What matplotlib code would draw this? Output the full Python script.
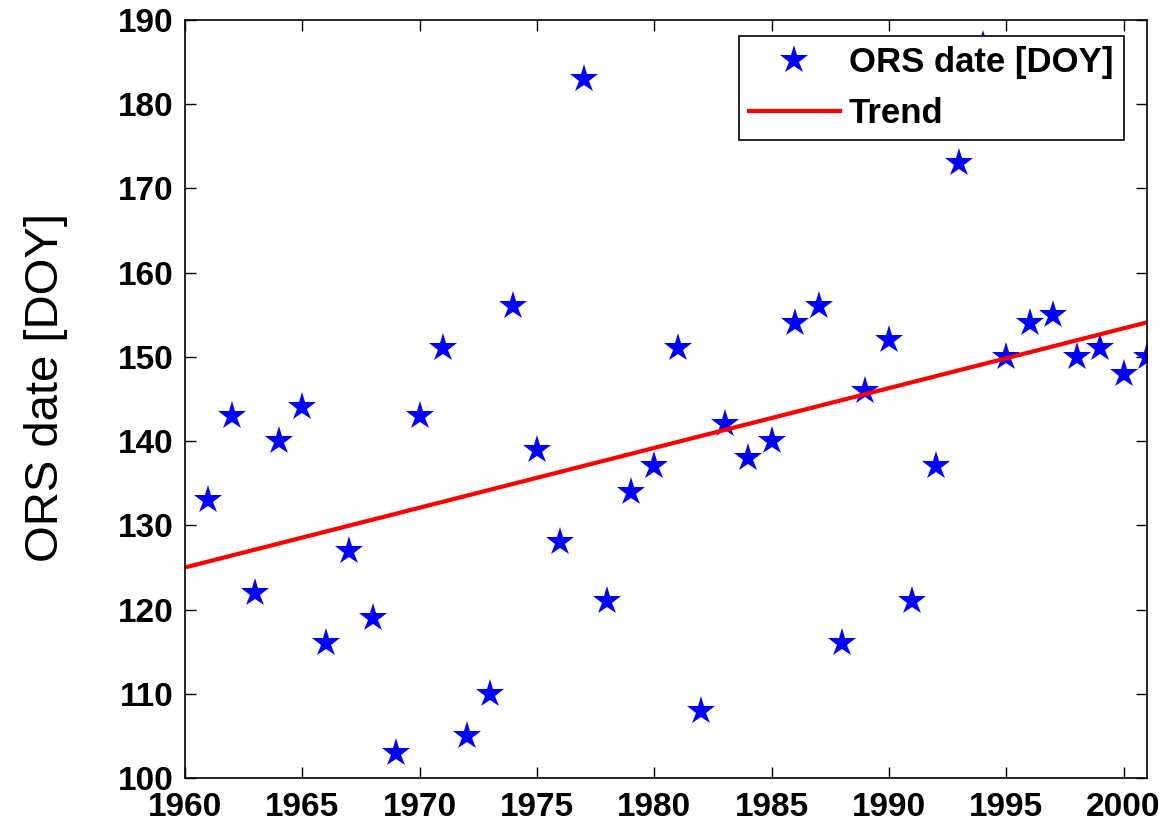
#!/usr/bin/env python3
'''ORS date (day of year) per year with a linear trend, MATLAB-like look.'''
import matplotlib
matplotlib.use('Agg')
import matplotlib.pyplot as plt

plt.rcParams['font.family'] = ['Liberation Sans', 'DejaVu Sans']

# observed ORS dates
years = [1961, 1962, 1963, 1964, 1965, 1966, 1967, 1968, 1969, 1970,
         1971, 1972, 1973, 1974, 1975, 1976, 1977, 1978, 1979, 1980,
         1981, 1982, 1983, 1984, 1985, 1986, 1987, 1988, 1989, 1990,
         1991, 1992, 1993, 1994, 1995, 1996, 1997, 1998, 1999, 2000,
         2001]
ors_doy = [133, 143, 122, 140, 144, 116, 127, 119, 103, 143,
           151, 105, 110, 156, 139, 128, 183, 121, 134, 137,
           151, 108, 142, 138, 140, 154, 156, 116, 146, 152,
           121, 137, 173, 187, 150, 154, 155, 150, 151, 148,
           150]

# trend line end points
trend_years = [1960, 2001]
trend_doy = [125.0, 154.1]

xticks = [1960, 1965, 1970, 1975, 1980, 1985, 1990, 1995, 2000]
yticks = [100, 110, 120, 130, 140, 150, 160, 170, 180, 190]


def main():
    fig = plt.figure(figsize=(11.64, 8.24), dpi=100)
    ax = fig.add_axes([0.1589, 0.0558, 0.8265, 0.9199])
    ax.plot(years, ors_doy, linestyle='none', marker='*', markersize=21,
            color='#0000ff', markeredgewidth=0, label='ORS date [DOY]')
    ax.plot(trend_years, trend_doy, color='#ff0000', linewidth=3,
            label='Trend')
    ax.set_xlim(1960, 2001)
    ax.set_ylim(100, 190)
    ax.set_xticks(xticks)
    ax.set_yticks(yticks)
    ax.tick_params(direction='in', length=8, width=1, top=True, right=True,
                   labelsize=24)
    ax.tick_params(axis='x', pad=10)
    ax.tick_params(axis='y', pad=8)
    for lab in ax.get_xticklabels() + ax.get_yticklabels():
        lab.set_fontweight('bold')
    for sp in ax.spines.values():
        sp.set_linewidth(1.2)
    ax.set_ylabel('ORS date [DOY]', fontsize=34)
    ax.yaxis.set_label_coords(-0.122, 0.515)
    leg = ax.legend(loc='upper right', bbox_to_anchor=(0.976, 0.979),
                    prop={'size': 25, 'weight': 'bold'}, fancybox=False,
                    framealpha=1, edgecolor='black', handlelength=2.62,
                    handletextpad=0.26, borderpad=0.3, labelspacing=0.5,
                    borderaxespad=0)
    leg.get_frame().set_linewidth(1.2)
    fig.savefig('out.png', dpi=100)


if __name__ == '__main__':
    main()
